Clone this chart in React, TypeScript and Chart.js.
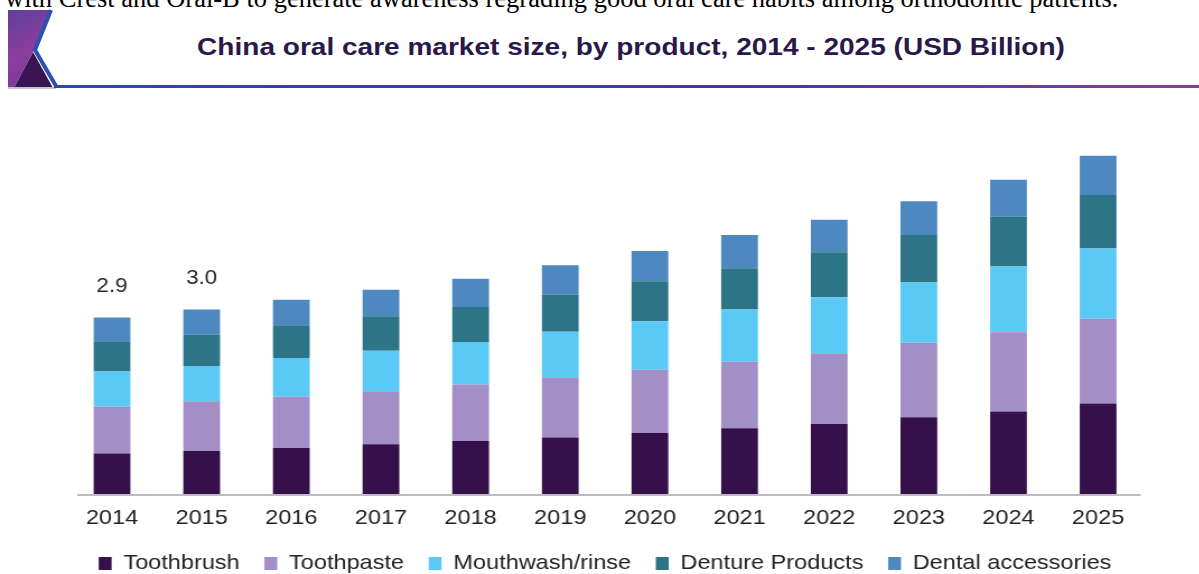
import React, { useEffect, useRef } from 'react';
import { Chart, registerables } from 'chart.js';

Chart.register(...registerables);

const years = ['2014', '2015', '2016', '2017', '2018', '2019', '2020', '2021', '2022', '2023', '2024', '2025'];
const toothbrush = [0.66, 0.70, 0.75, 0.81, 0.86, 0.92, 0.99, 1.07, 1.14, 1.25, 1.34, 1.47];
const toothpaste = [0.76, 0.81, 0.83, 0.86, 0.92, 0.98, 1.03, 1.08, 1.15, 1.21, 1.29, 1.38];
const mouthwash = [0.57, 0.57, 0.63, 0.66, 0.69, 0.74, 0.79, 0.85, 0.91, 0.98, 1.07, 1.14];
const denture = [0.48, 0.51, 0.52, 0.56, 0.57, 0.60, 0.65, 0.67, 0.73, 0.77, 0.81, 0.87];
const accessories = [0.40, 0.41, 0.43, 0.43, 0.46, 0.48, 0.49, 0.54, 0.53, 0.55, 0.60, 0.64];
const totalLabels = ['2.9', '3.0', '', '', '', '', '', '', '', '', '', ''];

const seriesNames = ['Toothbrush', 'Toothpaste', 'Mouthwash/rinse', 'Denture Products', 'Dental accessories'];
const seriesColors = ['#36104a', '#a38ec6', '#5bc9f6', '#2d7586', '#4d89c0'];

const introText = 'with Crest and Oral-B to generate awareness regrading good oral care habits among orthodontic patients.';
const titleText = 'China oral care market size, by product, 2014 - 2025 (USD Billion)';

const STRETCH = 1.12;
const CANVAS_W = Math.round(1199 / STRETCH);
const CANVAS_H = 474;

const totalsPlugin = {
  id: 'totalsPlugin',
  beforeDatasetsDraw(chart: any) {
    const { ctx, chartArea } = chart;
    ctx.save();
    ctx.strokeStyle = '#bdbdbd';
    ctx.lineWidth = 2;
    ctx.beginPath();
    ctx.moveTo(chartArea.left + 9, chartArea.bottom + 1);
    ctx.lineTo(chartArea.right - 2, chartArea.bottom + 1);
    ctx.stroke();
    ctx.restore();
  },
  afterDatasetsDraw(chart: any) {
    const ctx = chart.ctx;
    const meta = chart.getDatasetMeta(chart.data.datasets.length - 1);
    ctx.save();
    ctx.font = '20px "Liberation Sans", Arial, sans-serif';
    ctx.fillStyle = '#2a2a2a';
    ctx.textAlign = 'center';
    ctx.textBaseline = 'middle';
    meta.data.forEach((el: any, i: number) => {
      const t = totalLabels[i];
      if (t) ctx.fillText(t, el.x, el.y - 31.5);
    });
    ctx.restore();
  },
};

export default function App() {
  const canvasRef = useRef<HTMLCanvasElement | null>(null);

  useEffect(() => {
    if (!canvasRef.current) return;
    const data = [toothbrush, toothpaste, mouthwash, denture, accessories];
    const chart = new Chart(canvasRef.current, {
      type: 'bar',
      data: {
        labels: years,
        datasets: data.map((d, i) => ({
          label: seriesNames[i],
          data: d,
          backgroundColor: seriesColors[i],
          borderWidth: 0,
          categoryPercentage: 1,
          barPercentage: 0.41,
        })),
      },
      options: {
        animation: false,
        responsive: false,
        maintainAspectRatio: false,
        devicePixelRatio: 1,
        layout: { padding: { top: 15, left: 60, right: CANVAS_W - 1020.5, bottom: 0 } },
        plugins: {
          legend: {
            position: 'bottom',
            labels: {
              boxWidth: 11.5,
              boxHeight: 13,
              padding: 22,
              color: '#222',
              font: { size: 21, family: '"Liberation Sans", Arial, sans-serif' },
            },
          },
          tooltip: { enabled: false },
        },
        scales: {
          x: {
            stacked: true,
            grid: { display: false, drawTicks: false },
            border: { display: false },
            ticks: {
              color: '#222',
              padding: 12,
              font: { size: 21, family: '"Liberation Sans", Arial, sans-serif' },
            },
            afterFit(scale: any) {
              scale.height = 37;
            },
          },
          y: {
            stacked: true,
            display: false,
            min: 0,
            max: 6,
          },
        },
      },
      plugins: [totalsPlugin],
    });
    return () => chart.destroy();
  }, []);

  return (
    <div
      style={{
        position: 'fixed',
        left: 0,
        top: 0,
        width: 1199,
        height: 574,
        background: '#ffffff',
        overflow: 'hidden',
      }}
    >
      <div
        style={{
          position: 'absolute',
          left: 5,
          top: -15,
          fontFamily: '"Liberation Serif", "Times New Roman", serif',
          fontSize: 26.5,
          lineHeight: '26.5px',
          color: '#000',
          whiteSpace: 'nowrap',
        }}
      >
        {introText}
      </div>
      <svg width={1199} height={100} style={{ position: 'absolute', left: 0, top: 0 }}>
        <defs>
          <linearGradient id="logoGrad" x1="0" y1="0" x2="0.3" y2="1">
            <stop offset="0" stopColor="#5e3f9c" />
            <stop offset="0.6" stopColor="#8b3d9c" />
            <stop offset="1" stopColor="#7d3a98" />
          </linearGradient>
          <linearGradient id="lineGrad" x1="0" y1="0" x2="1" y2="0">
            <stop offset="0" stopColor="#2a4aa8" />
            <stop offset="0.6" stopColor="#43399a" />
            <stop offset="1" stopColor="#8a3d9c" />
          </linearGradient>
        </defs>
        <polygon points="8,10 50,10 34,50 14,88 8,88" fill="url(#logoGrad)" />
        <polygon points="14,88 33,52 53,88" fill="#3a1452" />
        <polyline points="51,10 35,50 56,86" fill="none" stroke="#2c50b4" strokeWidth={4} />
        <rect x={8} y={87} width={48} height={2} fill="#c9bedb" />
        <rect x={54} y={85} width={1145} height={3} fill="url(#lineGrad)" />
      </svg>
      <div
        style={{
          position: 'absolute',
          left: 0,
          width: 1262,
          top: 33,
          textAlign: 'center',
          fontFamily: '"Liberation Sans", Arial, sans-serif',
          fontWeight: 'bold',
          fontSize: 24,
          lineHeight: '28px',
          color: '#2b1848',
          whiteSpace: 'nowrap',
          transform: 'scaleX(1.168)',
          transformOrigin: '631px 50%',
        }}
      >
        {titleText}
      </div>
      <div
        style={{
          position: 'absolute',
          left: 0,
          top: 110,
          width: CANVAS_W,
          height: CANVAS_H,
          transform: `scaleX(${STRETCH})`,
          transformOrigin: '0 0',
        }}
      >
        <canvas
          ref={canvasRef}
          width={CANVAS_W}
          height={CANVAS_H}
          style={{ display: 'block', width: CANVAS_W, height: CANVAS_H }}
        />
      </div>
    </div>
  );
}
